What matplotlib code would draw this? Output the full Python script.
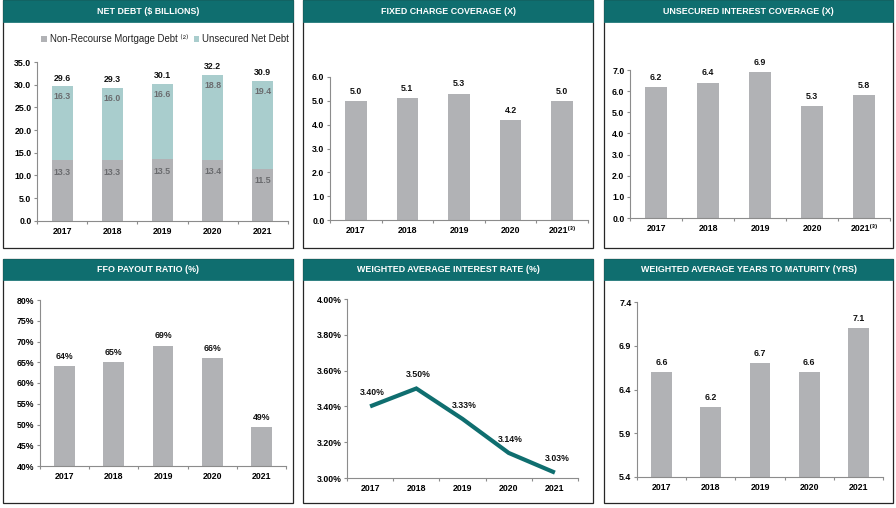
import matplotlib
matplotlib.use('Agg')
import matplotlib.pyplot as plt
from matplotlib.patches import Rectangle
from matplotlib.ticker import FuncFormatter
import numpy as np

# ---------------- data ----------------
years = ['2017', '2018', '2019', '2020', '2021']
years_fn3 = ['2017', '2018', '2019', '2020', '2021\u207d\u00b3\u207e']
mortgage_debt = [13.3, 13.3, 13.5, 13.4, 11.5]
unsecured_debt = [16.3, 16.0, 16.6, 18.8, 19.4]
net_debt_total = [29.6, 29.3, 30.1, 32.2, 30.9]
fixed_charge = [5.0, 5.1, 5.3, 4.2, 5.0]
unsecured_cov = [6.2, 6.4, 6.9, 5.3, 5.8]
ffo_payout = [64, 65, 69, 66, 49.4]
interest_rate = [3.40, 3.50, 3.33, 3.14, 3.03]
years_to_maturity = [6.6, 6.2, 6.7, 6.6, 7.1]

titles = ['NET DEBT ($ BILLIONS)', 'FIXED CHARGE COVERAGE (X)', 'UNSECURED INTEREST COVERAGE (X)',
          'FFO PAYOUT RATIO (%)', 'WEIGHTED AVERAGE INTEREST RATE (%)',
          'WEIGHTED AVERAGE YEARS TO MATURITY (YRS)']
legend_labels = ['Non-Recourse Mortgage Debt \u207d\u00b2\u207e', 'Unsecured Net Debt']

# ---------------- style ----------------
plt.rcParams['font.family'] = ['Liberation Sans', 'DejaVu Sans']
plt.rcParams['font.weight'] = 'bold'

W, H = 896, 508
TEAL = '#0F6E6F'
LTEAL = '#A9CDCD'
GRAY = '#B1B2B5'
AXC = '#8C8C8C'
SEGTXT = '#6A6B6E'
FS = 6.3

fig = plt.figure(figsize=(W / 100, H / 100), dpi=100)
fig.patch.set_facecolor('white')


def frect(x0, y0, x1, y1):
    return [x0 / W, 1 - y1 / H, (x1 - x0) / W, (y1 - y0) / H]


def panel(x0, y0, x1, y1, hh, title):
    r = frect(x0, y0, x1, y1)
    fig.add_artist(Rectangle((r[0], r[1]), r[2], r[3], transform=fig.transFigure,
                             facecolor='white', edgecolor='#262626', lw=0.9, zorder=0))
    h = frect(x0, y0, x1, y0 + hh)
    fig.add_artist(Rectangle((h[0], h[1]), h[2], h[3], transform=fig.transFigure,
                             facecolor=TEAL, edgecolor=TEAL, lw=0.5, zorder=1))
    fig.text((x0 + x1) / 2 / W, 1 - (y0 + hh / 2) / H, title, color='white',
             fontsize=6.4, fontweight='bold', ha='center', va='center', zorder=2)


def style(ax, ylim, yticks, fmt, xlabels=years):
    ax.set_xlim(-0.5, 4.5)
    ax.set_ylim(*ylim)
    ax.patch.set_alpha(0)
    for s in ('top', 'right'):
        ax.spines[s].set_visible(False)
    for s in ('left', 'bottom'):
        ax.spines[s].set_color(AXC)
        ax.spines[s].set_linewidth(0.8)
    ax.set_xticks(range(len(xlabels)))
    ax.set_xticklabels(xlabels, fontsize=FS, fontweight='bold')
    ax.set_xticks(np.arange(-0.5, 5, 1), minor=True)
    ax.tick_params(axis='x', which='major', length=0, pad=4.5)
    ax.tick_params(axis='x', which='minor', length=2.5, color=AXC, width=0.8)
    ax.set_yticks(yticks)
    ax.yaxis.set_major_formatter(FuncFormatter(fmt))
    ax.tick_params(axis='y', length=2.5, color=AXC, width=0.8, pad=1.5, labelsize=FS)
    for lbl in ax.get_yticklabels():
        lbl.set_fontweight('bold')


def labels_above(ax, x, vals, fmt, dy=7):
    for xi, v in zip(x, vals):
        ax.annotate(fmt(v), (xi, v), xytext=(0, dy), textcoords='offset points',
                    ha='center', va='center', fontsize=FS, fontweight='bold', color='#111111')


x = np.arange(len(years))
BW = 0.42

# ---------- panel frames ----------
panel(3, 0, 293, 248, 22, titles[0])
panel(303, 0, 593, 248, 22, titles[1])
panel(604, 0, 893, 248, 22, titles[2])
panel(3, 259, 293, 503, 21, titles[3])
panel(303, 259, 593, 503, 21, titles[4])
panel(604, 259, 893, 503, 21, titles[5])

# ---------- 1: net debt ----------
ax1 = fig.add_axes(frect(37, 62, 288, 220.7))
b1 = ax1.bar(x, mortgage_debt, BW, color=GRAY, label=legend_labels[0])
b2 = ax1.bar(x, unsecured_debt, BW, bottom=mortgage_debt, color=LTEAL, label=legend_labels[1])
style(ax1, (0, 35), np.arange(0, 35.1, 5), lambda v, p: f'{v:.1f}')
for xi, m, u in zip(x, mortgage_debt, unsecured_debt):
    ax1.annotate(f'{m:.1f}', (xi, m), xytext=(0, -8.5), textcoords='offset points',
                 ha='center', va='center', fontsize=FS, fontweight='bold', color=SEGTXT)
    ax1.annotate(f'{u:.1f}', (xi, m + u), xytext=(0, -7.5), textcoords='offset points',
                 ha='center', va='center', fontsize=FS, fontweight='bold', color=SEGTXT)
labels_above(ax1, x, net_debt_total, lambda v: f'{v:.1f}', dy=6)
leg = ax1.legend(handles=[b1, b2], loc='center', bbox_to_anchor=(165 / W, 1 - 39 / H),
                 bbox_transform=fig.transFigure, ncol=2, frameon=False, fontsize=6.9,
                 handlelength=0.6, handleheight=0.6, handletextpad=0.3, columnspacing=0.6,
                 borderaxespad=0, borderpad=0)
for t in leg.get_texts():
    t.set_fontweight('normal')
    t.set_color('#222222')

# ---------- 2: fixed charge coverage ----------
ax2 = fig.add_axes(frect(330, 77, 588, 220))
ax2.bar(x, fixed_charge, BW, color=GRAY)
style(ax2, (0, 6), np.arange(0, 6.1, 1), lambda v, p: f'{v:.1f}', years_fn3)
labels_above(ax2, x, fixed_charge, lambda v: f'{v:.1f}', dy=7)

# ---------- 3: unsecured interest coverage ----------
ax3 = fig.add_axes(frect(630, 70, 890, 218))
ax3.bar(x, unsecured_cov, BW, color=GRAY)
style(ax3, (0, 7), np.arange(0, 7.1, 1), lambda v, p: f'{v:.1f}', years_fn3)
labels_above(ax3, x, unsecured_cov, lambda v: f'{v:.1f}', dy=7)

# ---------- 4: FFO payout ratio ----------
ax4 = fig.add_axes(frect(40, 300, 286, 466))
ax4.bar(x, ffo_payout, BW, color=GRAY)
style(ax4, (40, 80), np.arange(40, 80.1, 5), lambda v, p: f'{v:.0f}%')
labels_above(ax4, x, ffo_payout, lambda v: f'{v:.0f}%', dy=7)

# ---------- 5: weighted avg interest rate ----------
ax5 = fig.add_axes(frect(347, 299, 578, 478))
ax5.plot(x, interest_rate, color=TEAL, lw=3.0, solid_capstyle='butt', solid_joinstyle='miter')
style(ax5, (3.0, 4.0), np.arange(3.0, 4.01, 0.2), lambda v, p: f'{v:.2f}%')
for xi, v in zip(x, interest_rate):
    ax5.annotate(f'{v:.2f}%', (xi, v), xytext=(1.5, 10), textcoords='offset points',
                 ha='center', va='center', fontsize=FS, fontweight='bold', color='#111111')

# ---------- 6: years to maturity ----------
ax6 = fig.add_axes(frect(637, 302, 883, 477))
ax6.bar(x, years_to_maturity, BW, color=GRAY)
style(ax6, (5.4, 7.4), np.arange(5.4, 7.41, 0.5), lambda v, p: f'{v:.1f}')
labels_above(ax6, x, years_to_maturity, lambda v: f'{v:.1f}', dy=7)

fig.savefig('out.png', dpi=100, facecolor='white')
